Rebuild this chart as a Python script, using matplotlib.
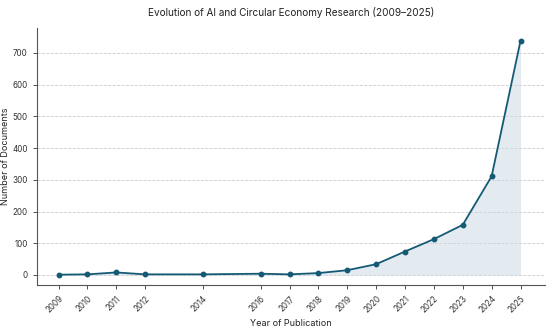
import matplotlib
matplotlib.use('Agg')
import matplotlib.pyplot as plt

# Publications per year
years = [2009, 2010, 2011, 2012, 2014, 2016, 2017, 2018, 2019, 2020, 2021, 2022, 2023, 2024, 2025]
docs = [1, 2, 8, 2, 2, 4, 2, 6, 15, 34, 74, 113, 158, 311, 738]

plt.rcParams['font.family'] = ['Inter', 'DejaVu Sans']
line_color = '#145a74'

fig = plt.figure(figsize=(5.5, 3.27), dpi=100)
ax = fig.add_axes([0.067, 0.128, 0.924, 0.786])

ax.fill_between(years, docs, color='#c9d9e2', alpha=0.5, linewidth=0)
ax.plot(years, docs, color=line_color, linewidth=1.3, marker='o', markersize=3.2)

ax.set_xticks(years)
ax.set_xticklabels([str(y) for y in years], rotation=45, ha='right',
                   rotation_mode='anchor', fontsize=5.8, color='#333333')
ax.set_yticks(range(0, 701, 100))
ax.tick_params(axis='y', labelsize=5.8, colors='#333333', length=3, width=0.6)
ax.tick_params(axis='x', length=3, width=0.6, colors='#333333')
ax.set_xlim(2008.25, 2025.85)
ax.set_ylim(-32, 778)

ax.grid(axis='y', linestyle='--', color='#cccccc', linewidth=0.6)
ax.set_axisbelow(True)
for s in ['top', 'right']:
    ax.spines[s].set_visible(False)
for s in ['left', 'bottom']:
    ax.spines[s].set_color('#555555')
    ax.spines[s].set_linewidth(0.8)

ax.set_title('Evolution of AI and Circular Economy Research (2009\u20132025)', fontsize=7.2, pad=9, color='#222222')
ax.set_xlabel('Year of Publication', fontsize=6.5, color='#222222', labelpad=3)
ax.set_ylabel('Number of Documents', fontsize=6.5, color='#222222', labelpad=2)

fig.savefig('out.png', dpi=100)
